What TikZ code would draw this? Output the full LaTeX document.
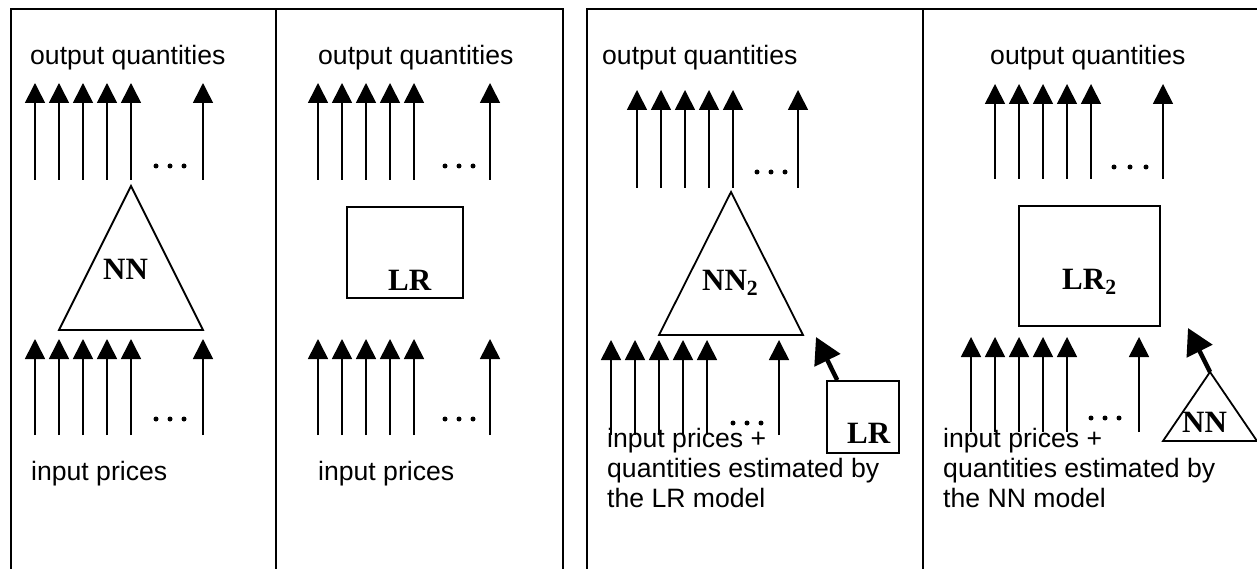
\documentclass[tikz,border=0pt]{standalone}
\usepackage{fontspec}
\setmainfont{Liberation Serif}
\newfontfamily\arialfont{Liberation Sans}
\usetikzlibrary{arrows.meta,calc}

% a bundle of parallel upward arrows: x list, tip y, tail y, name prefix
\newcommand\arrowbundle[4]{%
  \foreach \x [count=\i] in {#1} {%
    \coordinate (#4-tip\i) at (\x,#2);
    \coordinate (#4-tail\i) at (\x,#3);
    \draw[flow] (#4-tail\i) -- (#4-tip\i);
  }}
% three dots marking the omitted arrows
\newcommand\ellipsisdots[2]{%
  \foreach \x in {#1} { \fill (\x,#2) circle (2.5); }}

\begin{document}
\begin{tikzpicture}[x=1pt,y=-1pt,
  frame/.style={line width=2pt},
  flow/.style={line width=1.6pt,-{Triangle[length=20pt,width=20pt]}},
  feed/.style={line width=4.5pt,-{Triangle[length=26pt,width=28pt]}},
  model/.style={line width=1.8pt},
  caption/.style={font=\arialfont\fontsize{26.6}{30}\selectfont,anchor=base west,inner sep=0pt,align=left},
  tag/.style={font=\bfseries\fontsize{31}{31}\selectfont,anchor=base west,inner sep=0pt}]
\useasboundingbox (0,0) rectangle (1257,569);

% ---- frames ----
\draw[frame] (11,569) -- (11,9) -- (563,9) -- (563,569);
\draw[frame] (276,9) -- (276,569);
\draw[frame] (587,569) -- (587,9) -- (1257,9);
\draw[frame] (923,9) -- (923,569);

% ---- panel 1: neural network ----
\node[caption] (out1) at (30,65) {output quantities};
\arrowbundle{35,59,83,107,131,203}{83}{180}{o1}
\ellipsisdots{156,170,184}{166}
\draw[model] (131,186) -- (203,330) -- (59,330) -- cycle;
\node[tag] (nn1) at (103,279) {NN};
\arrowbundle{35,59,83,107,131,203}{339}{435}{i1}
\ellipsisdots{156,170,184}{419}
\node[caption] (in1) at (31,480) {input prices};

% ---- panel 2: linear regression ----
\node[caption] (out2) at (318,65) {output quantities};
\arrowbundle{318,342,366,390,414,490}{83}{180}{o2}
\ellipsisdots{445,459,473}{166}
\node[draw,model,minimum width=116pt,minimum height=91pt,inner sep=0pt] (lr1) at (405,252.5) {};
\node[tag] (lr1tag) at (388,290) {LR};
\arrowbundle{318,342,366,390,414,490}{339}{435}{i2}
\ellipsisdots{445,459,473}{419}
\node[caption] (in2) at (318,480) {input prices};

% ---- panel 3: NN fed by LR estimates ----
\node[caption] (out3) at (602,65) {output quantities};
\arrowbundle{637,661,685,709,733,798}{90}{188}{o3}
\ellipsisdots{757,771,785}{172}
\draw[model] (731,192) -- (803,335) -- (659,335) -- cycle;
\node[tag] (nn2) at (702,290) {NN\textsubscript{2}};
\arrowbundle{611,635,659,683,707,779}{340}{435}{i3}
\ellipsisdots{733,747,761}{423}
\node[draw,model,minimum width=72pt,minimum height=72pt,inner sep=0pt] (lrbox) at (863,417) {};
\node[tag] (lrboxtag) at (847,443) {LR};
\coordinate (feed3) at (816,337);
\draw[feed] ($(lrbox.north west)!0.15!(lrbox.north east)$) -- (feed3);
% the base anchor of a multi-line node sits on its last line
\node[caption] (in3) at (607,507) {input prices +\\quantities estimated by\\the LR model};

% ---- panel 4: LR fed by NN estimates ----
\node[caption] (out4) at (990,65) {output quantities};
\arrowbundle{995,1019,1043,1067,1091,1163}{84}{179}{o4}
\ellipsisdots{1114,1130,1146}{167}
\node[draw,model,minimum width=141pt,minimum height=120pt,inner sep=0pt] (lr2) at (1089.5,266) {};
\node[tag] (lr2tag) at (1062,289) {LR\textsubscript{2}};
\arrowbundle{971,995,1019,1043,1067,1139}{337}{432}{i4}
\ellipsisdots{1091,1105,1119}{418}
\coordinate (nnapex) at (1210,372);
\draw[model] (nnapex) -- (1257,441) -- (1163,441) -- cycle;
\node[tag] (nnsmall) at (1182,432) {NN};
\coordinate (feed4) at (1188,328);
\draw[feed] (nnapex) -- (feed4);
\node[caption] (in4) at (943,507) {input prices +\\quantities estimated by\\the NN model};
\end{tikzpicture}
\end{document}
